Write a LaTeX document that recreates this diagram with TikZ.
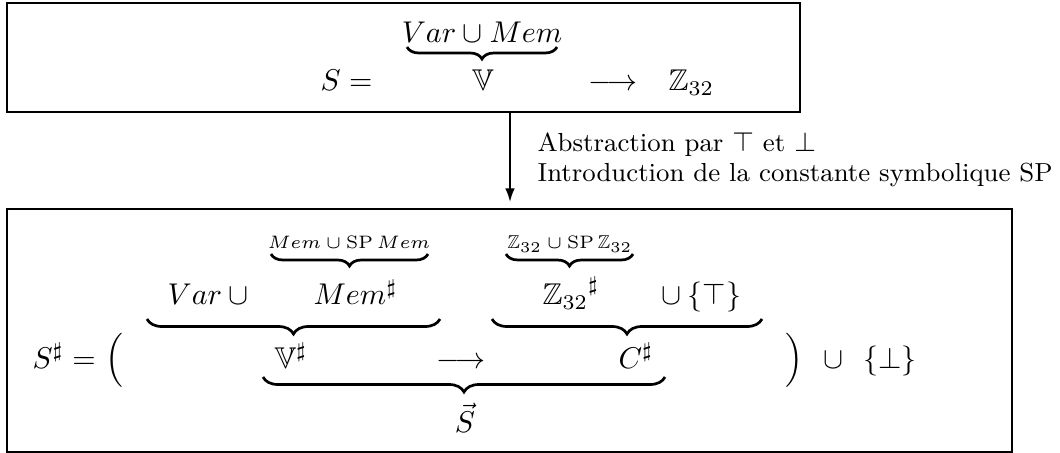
\documentclass[tikz,border=0pt]{standalone}
\usepackage{amsmath,amssymb}
\usetikzlibrary{decorations.pathreplacing,arrows.meta}
\begin{document}
\begin{tikzpicture}[x=0.3333pt,y=-0.3333pt,
  frame/.style={draw, line width=0.7pt, inner sep=0pt},
  m/.style={inner sep=0pt, anchor=base},
  mw/.style={inner sep=0pt, anchor=base west},
  small/.style={inner sep=0pt, anchor=base, font=\fontsize{6.2}{7}\selectfont},
  ubrace/.style={decorate, decoration={brace, mirror, amplitude=#1}, line width=0.9pt},
  ]
\useasboundingbox (0,0) rectangle (1060,453);
% frames
\node[frame, minimum width=264.3pt, minimum height=36.3pt] (top) at (403.5,57.5) {};
\node[frame, minimum width=335pt, minimum height=81pt] (bot) at (509.5,330.5) {};
% top content
\node[mw] (s) at (320,91) {$S =$};
\node[m] (vm) at (482,43) {$Var \cup Mem$};
\node[m] (V) at (483,91) {$\mathbb{V}$};
\node[m] (to) at (613,91) {$\longrightarrow$};
\node[mw] (Z) at (668,91) {$\mathbb{Z}_{32}$};
\coordinate (b0l) at (407,47);
\coordinate (b0r) at (557,47);
\draw[ubrace=4pt] (b0l) -- (b0r);
% arrow and label
\coordinate (ax) at (510,0);
\draw[-{Latex[length=4.5pt,width=3.2pt]}, line width=0.6pt, shorten >=2pt] (top.south -| ax) -- (bot.north -| ax);
\node[anchor=west, align=left, font=\fontsize{8.7}{10}\selectfont, inner sep=0pt] (lab) at (537,160)
  {Abstraction par $\top$ et $\bot$\\Introduction de la constante symbolique SP};
% bottom: small labels
\node[small] (sl1) at (349,249) {$Mem\cup\mathrm{SP}\,Mem$};
\node[small] (sl2) at (570,249) {$\mathbb{Z}_{32}\cup\mathrm{SP}\,\mathbb{Z}_{32}$};
\coordinate (s1l) at (271,254);
\coordinate (s1r) at (428,254);
\coordinate (s2l) at (506,254);
\coordinate (s2r) at (633,254);
\draw[ubrace=4pt] (s1l) -- (s1r);
\draw[ubrace=4pt] (s2l) -- (s2r);
% line 1
\node[mw] (var) at (167,305) {$Var \cup {}$};
\node[mw] (mem) at (313,305) {$Mem^\sharp$};
\node[mw] (z32) at (542,305) {${\mathbb{Z}_{32}}^\sharp$};
\node[mw] (tp) at (654,305) {${}\cup\{\top\}$};
\coordinate (b1l) at (147,319);
\coordinate (b1r) at (440,319);
\coordinate (b3l) at (492,319);
\coordinate (b3r) at (762,319);
\draw[ubrace=5pt] (b1l) -- (b1r);
\draw[ubrace=5pt] (b3l) -- (b3r);
% line 2
\node[mw] (sh) at (32,368) {$S^\sharp =$};
\node[mw] (lp) at (105,368) {$\Big($};
\node[m] (Vs) at (291,368) {$\mathbb{V}^\sharp$};
\node[m] (to2) at (461,368) {$\longrightarrow$};
\node[m] (C) at (636,368) {$C^\sharp$};
\node[m] (rp) at (794,368) {$\Big)$};
\node[m] (cup) at (834,368) {$\cup$};
\node[m] (bt) at (890,368) {$\{\bot\}$};
\coordinate (b2l) at (263,377);
\coordinate (b2r) at (665,377);
\draw[ubrace=5pt] (b2l) -- (b2r);
\node[m] (Svec) at (465,432) {$\vec{S}$};
\end{tikzpicture}
\end{document}
